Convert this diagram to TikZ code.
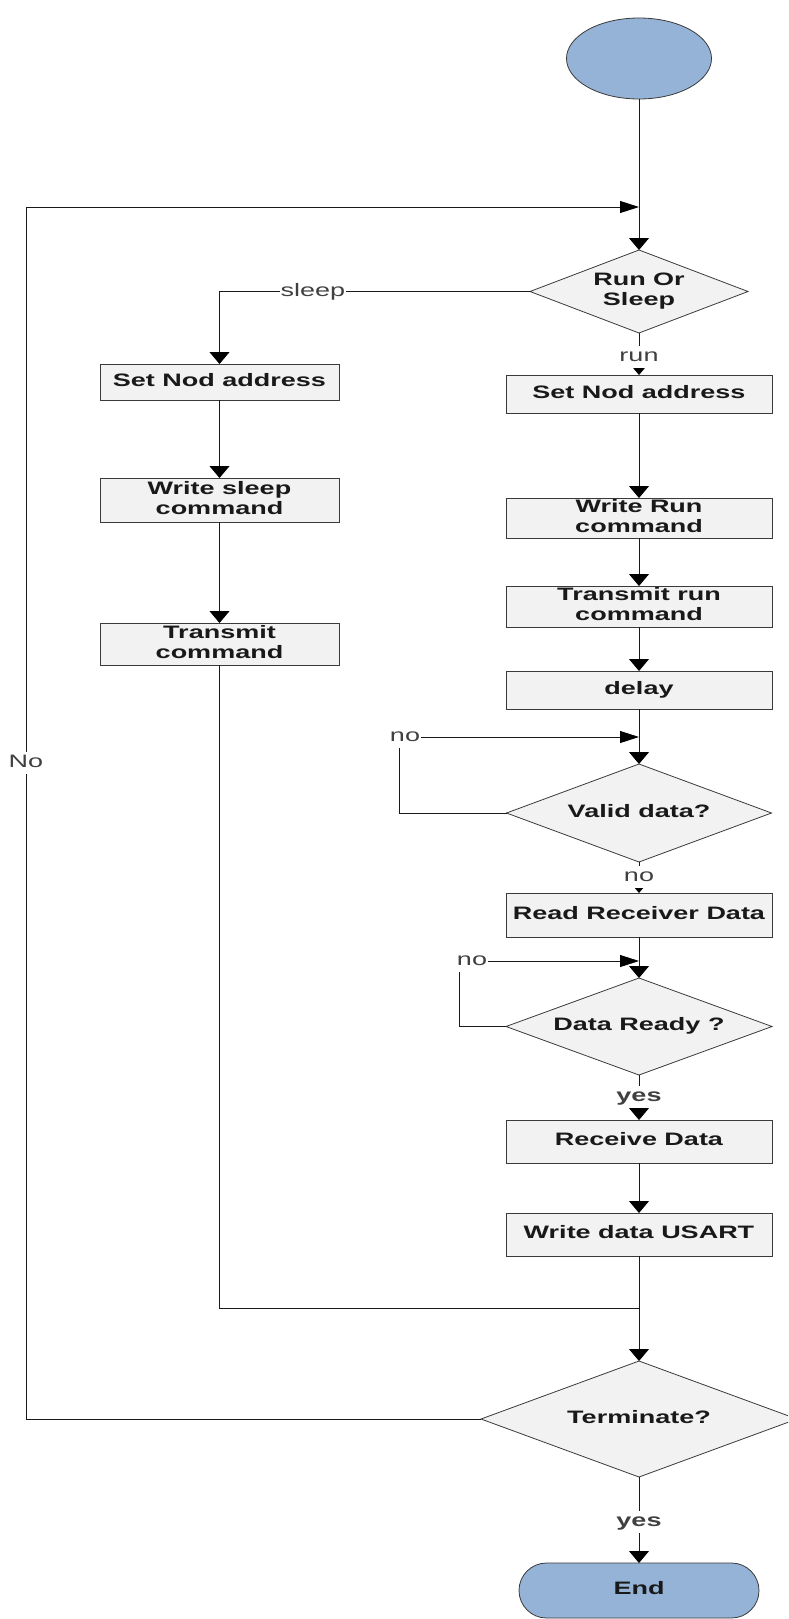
\documentclass[tikz,border=0pt]{standalone}
\usepackage{fontspec}
\setmainfont{Liberation Sans}
\usetikzlibrary{shapes.geometric,shapes.misc,arrows.meta}
\definecolor{boxfill}{HTML}{F2F2F2}
\definecolor{termfill}{HTML}{95B3D7}
\definecolor{edgegray}{HTML}{3A3A3A}
% horizontally widened text, one or more centred lines
\newcommand\wide[1]{\scalebox{1.5}[1]{\begin{tabular}{@{}c@{}}#1\end{tabular}}}

\begin{document}
\begin{tikzpicture}[x=1pt,y=-1pt,
  every node/.style={outer sep=0pt},
  base/.style={draw=edgegray, line width=0.8pt, fill=boxfill, inner sep=0pt,
    font=\bfseries\fontsize{18}{20}\selectfont, text=black!90},
  procbox/.style={base, rectangle, minimum width=266pt},
  decision/.style={base, diamond},
  terminal/.style={base, fill=termfill},
  flow/.style={line width=0.8pt, draw=black!90},
  varr/.style={flow, -{Triangle[width=20pt,length=12pt,fill=black,color=black]}},
  harr/.style={flow, -{Triangle[width=12pt,length=19pt,fill=black,color=black]}},
  lbl/.style={fill=white, inner sep=1pt, font=\fontsize{18}{20}\selectfont, text=black!75},
  blbl/.style={lbl, font=\bfseries\fontsize{18}{20}\selectfont},
]
\useasboundingbox (0,0) rectangle (788,1619);
\clip (0,0) rectangle (788,1619);

% terminals
\node[terminal, ellipse, minimum width=145pt, minimum height=81pt] (start) at (639,58.5) {};
\node[terminal, rounded rectangle, minimum width=240pt, minimum height=55pt] (end) at (639,1590.5) {\wide{End}};

% main decision
\node[decision, aspect=2.63, minimum width=218pt, minimum height=83pt] (d1) at (639,291.5) {\wide{Run Or\\Sleep}};

% sleep branch
\node[procbox, minimum width=239pt, minimum height=36pt] (lsna) at (219.5,382) {\wide{Set Nod address}};
\node[procbox, minimum width=239pt, minimum height=44pt] (wsc) at (219.5,500) {\wide{Write sleep\\command}};
\node[procbox, minimum width=239pt, minimum height=42pt] (tc) at (219.5,644) {\wide{Transmit\\command}};

% run branch
\node[procbox, minimum height=38pt] (rsna) at (639,394) {\wide{Set Nod address}};
\node[procbox, minimum height=38pt] (wrc) at (639,518) {\wide{Write Run\\command}};
\node[procbox, minimum height=41pt] (trc) at (639,606.5) {\wide{Transmit run\\command}};
\node[procbox, minimum height=38pt] (delay) at (639,690) {\wide{delay}};
\node[decision, aspect=2.7, minimum width=265pt, minimum height=98pt] (valid) at (639,813) {\wide{Valid data?}};
\node[procbox, minimum height=44pt] (read) at (639,915) {\wide{Read Receiver Data}};
\node[decision, aspect=2.74, minimum width=266pt, minimum height=97pt] (ready) at (639,1026.5) {\wide{Data Ready ?}};
\node[procbox, minimum height=43pt] (recv) at (639,1141.5) {\wide{Receive Data}};
\node[procbox, minimum height=43pt] (usart) at (639,1234.5) {\wide{Write data USART}};
\node[decision, aspect=2.72, minimum width=316pt, minimum height=116pt] (term) at (639,1419) {\wide{Terminate?}};

% junction points
\coordinate (lpTop) at (26,207);
\coordinate (rejoin) at (639,207);
\coordinate (vloop) at (399,737);
\coordinate (vjoin) at (639,737);
\coordinate (rloop) at (459,961);
\coordinate (rjoin) at (639,961);
\coordinate (merge) at (639,1308);

% connectors
\draw[varr] (start) -- (d1);
\draw[harr] (term.west) -| (lpTop) -- (rejoin);
\draw[varr] (d1.west) -| (lsna.north);
\draw[varr] (d1.south) -- (rsna.north);
\draw[varr] (lsna) -- (wsc);
\draw[varr] (wsc) -- (tc);
\draw[flow] (tc.south) |- (merge);
\draw[varr] (rsna) -- (wrc);
\draw[varr] (wrc) -- (trc);
\draw[varr] (trc) -- (delay);
\draw[varr] (delay) -- (valid);
\draw[harr] (valid.west) -| (vloop) -- (vjoin);
\draw[varr] (valid.south) -- (read.north);
\draw[varr] (read) -- (ready);
\draw[harr] (ready.west) -| (rloop) -- (rjoin);
\draw[varr] (ready.south) -- (recv.north);
\draw[varr] (recv) -- (usart);
\draw[varr] (usart.south) -- (term.north);
\draw[varr] (term.south) -- (end.north);

% connector labels
\node[lbl] (lNo) at (26,763) {\wide{No}};
\node[lbl] (lSleep) at (313,292) {\wide{sleep}};
\node[lbl] (lRun) at (639,357) {\wide{run}};
\node[lbl] (lNoA) at (405,737) {\wide{no}};
\node[lbl] (lNoB) at (639,877) {\wide{no}};
\node[lbl] (lNoC) at (472,961) {\wide{no}};
\node[blbl] (lYesA) at (639,1097) {\wide{yes}};
\node[blbl] (lYesB) at (639,1522) {\wide{yes}};
\end{tikzpicture}
\end{document}
